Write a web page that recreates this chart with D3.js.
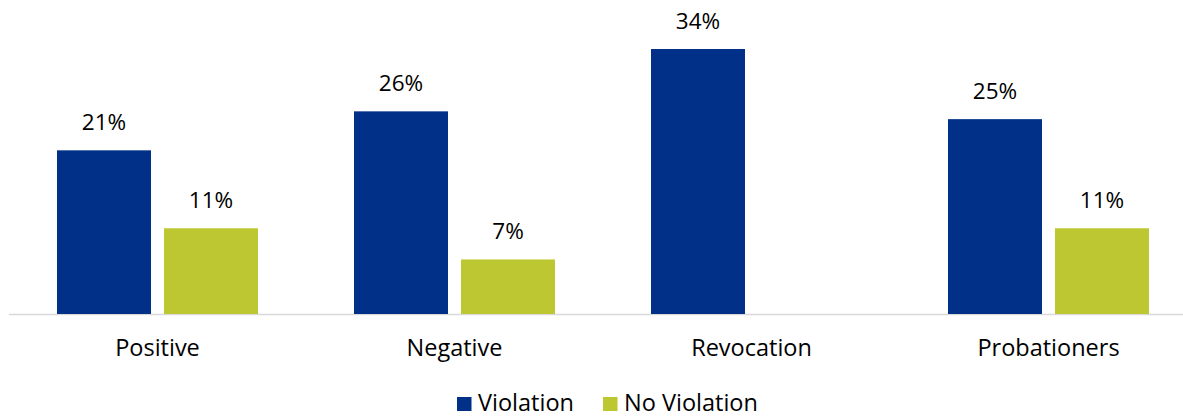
<!DOCTYPE html>
<html><head><meta charset="utf-8">
<script src="https://cdn.jsdelivr.net/npm/d3@7"></script>
<style>body{margin:0;background:#fff;} svg{display:block;font-family:"Open Sans",sans-serif;}</style>
</head><body><svg id="c" width="1183" height="418"></svg>
<script>
const categories = ["Positive","Negative","Revocation","Probationers"];
const series = ["Violation","No Violation"];
const violation = [21,26,34,25];
const noViolation = [11,7,null,11];
const colors = ["#003087","#BDC731"];

const svg = d3.select("#c");
const x0 = d3.scaleBand().domain(categories).range([9,1197]).paddingInner(0).paddingOuter(0);
const x1 = d3.scaleBand().domain(series).range([48,249]).paddingInner(0.1215).paddingOuter(0);
const y = d3.scaleLinear().domain([0,34]).range([314,49]);
const color = d3.scaleOrdinal().domain(series).range(colors);

const data = categories.map((c,i)=>({cat:c, vals:[{s:series[0],v:violation[i]},{s:series[1],v:noViolation[i]}]}));

// axis line
svg.append("line").attr("x1",9).attr("x2",1197).attr("y1",y(0)+0.5).attr("y2",y(0)+0.5)
  .attr("stroke","#d9d9d9").attr("stroke-width",1.5);

const g = svg.selectAll("g.cat").data(data).join("g").attr("class","cat")
  .attr("transform",d=>`translate(${x0(d.cat)},0)`);
g.selectAll("rect").data(d=>d.vals.filter(v=>v.v!=null)).join("rect")
  .attr("x",d=>x1(d.s)).attr("width",x1.bandwidth())
  .attr("y",d=>y(d.v)).attr("height",d=>y(0)-y(d.v)).attr("fill",d=>color(d.s));
g.selectAll("text.val").data(d=>d.vals.filter(v=>v.v!=null)).join("text").attr("class","val")
  .attr("x",d=>x1(d.s)+x1.bandwidth()/2).attr("y",d=>y(d.v)-20)
  .attr("text-anchor","middle").attr("font-size",22.5).attr("fill","#000")
  .text(d=>d.v+"%");

// category labels
const xAxis = d3.axisBottom(x0).tickSize(0).tickPadding(0);
const ax = svg.append("g").attr("transform",`translate(0,${y(0)})`).call(xAxis);
ax.select(".domain").remove();
ax.selectAll("text").attr("font-size",23.5).attr("font-family","Open Sans, sans-serif").attr("fill","#000")
  .attr("dy",null).attr("y",42);

// legend
const legItems = [{s:series[0],x:457},{s:series[1],x:603}];
const lg = svg.selectAll("g.leg").data(legItems).join("g").attr("class","leg")
  .attr("transform",d=>`translate(${d.x},397)`);
lg.append("rect").attr("width",14.5).attr("height",14).attr("fill",d=>color(d.s));
lg.append("text").attr("x",21).attr("y",14).attr("font-size",23.5).attr("fill","#000").text(d=>d.s);
</script></body></html>
